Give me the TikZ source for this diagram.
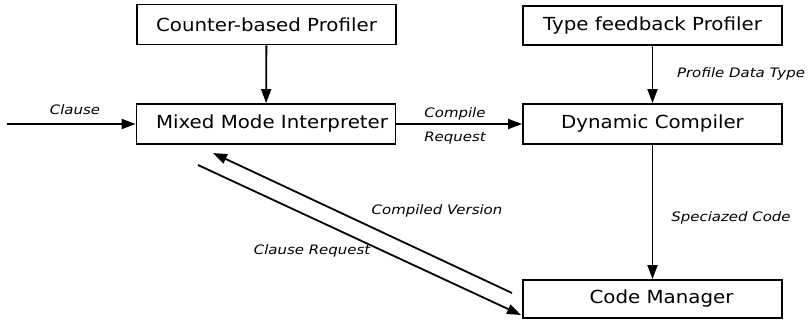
\documentclass[tikz,border=0pt]{standalone}
\usepackage{fontspec}
\setmainfont{DejaVu Sans}
\newfontfamily\boxfont[FakeStretch=1.1]{DejaVu Sans}
\newfontfamily\labfont[FakeStretch=1.15]{DejaVu Sans Oblique}
\usetikzlibrary{arrows.meta}
\begin{document}
\begin{tikzpicture}[x=1pt,y=-1pt,
  box/.style={draw,line width=1.8pt,minimum width=259pt,minimum height=40pt,inner sep=0pt,font=\boxfont\fontsize{18}{21}\selectfont},
  conn/.style={line width=1.8pt,-{Triangle[length=14pt,width=10pt]}},
  lab/.style={font=\labfont\fontsize{13}{15}\selectfont,inner sep=0pt}]
\useasboundingbox (0,0) rectangle (811,324);
\node[box] (cbp) at (266.5,24.5) {Counter-based Profiler};
\node[box] (mmi) at (266,124) {\hspace{12pt}Mixed Mode Interpreter};
\node[box,minimum height=39pt] (tfp) at (652.5,25.5) {Type feedback Profiler};
\node[box] (dc) at (652.5,124) {Dynamic Compiler};
\node[box,minimum height=38pt] (cm) at (652.5,299) {\hspace{18pt}Code Manager};
\coordinate (in) at (7,124);
\coordinate (cvs) at (512,293);
\coordinate (cve) at (213,153);
\coordinate (crs) at (198,165);
\coordinate (cre) at (521,315);
\draw[conn] (cbp) -- (mmi);
\draw[conn] (in) -- (mmi.west);
\draw[conn] (mmi.east) -- (dc.west);
\draw[conn] (tfp) -- (dc);
\draw[conn] (dc) -- (cm);
\draw[conn] (cvs) -- (cve);
\draw[conn] (crs) -- (cre);
\node[lab] (l1) at (75,110) {Clause};
\node[lab] (l2) at (455,114) {Compile};
\node[lab] (l3) at (455,138) {Request};
\node[lab] (l4) at (741,74) {Profile Data Type};
\node[lab] (l5) at (731,218) {Speciazed Code};
\node[lab] (l6) at (437,211) {Compiled Version};
\node[lab] (l7) at (312,251) {Clause Request};
\end{tikzpicture}
\end{document}
